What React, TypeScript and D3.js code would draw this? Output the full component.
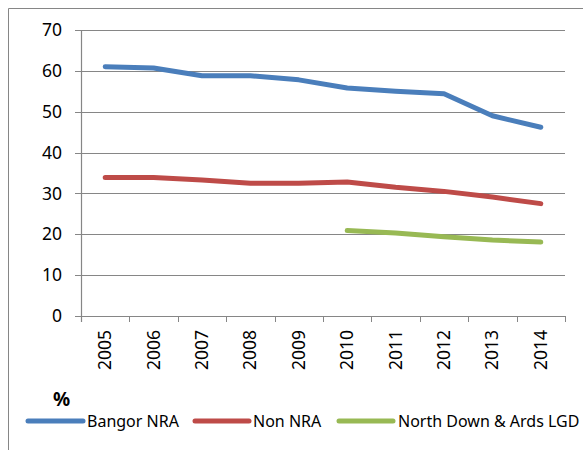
import React from "react";
import * as d3 from "d3";

const years = ["2005", "2006", "2007", "2008", "2009", "2010", "2011", "2012", "2013", "2014"];
const bangor = [61.0, 60.7, 58.8, 58.8, 57.8, 55.8, 55.0, 54.4, 49.0, 46.2];
const nonNra = [33.9, 33.9, 33.3, 32.5, 32.5, 32.8, 31.5, 30.5, 29.1, 27.5];
const northDown: (number | null)[] = [null, null, null, null, null, 20.9, 20.3, 19.4, 18.6, 18.1];
const yTicks = [0, 10, 20, 30, 40, 50, 60, 70];
const seriesNames = ["Bangor NRA", "Non NRA", "North Down & Ards LGD"];
const colors = ["#4A7EBB", "#BE4B48", "#98B954"];

export default function App() {
  const W = 583, H = 450;
  const left = 81, right = 565, top = 30, bottom = 316;
  const x = d3.scaleBand<string>().domain(years).range([left, right]);
  const y = d3.scaleLinear().domain([0, 70]).range([bottom, top]);
  const font = "'Noto Sans', 'Open Sans', sans-serif";
  const grid = "#868686";

  const line = d3
    .line<number | null>()
    .defined((d) => d !== null)
    .x((_, i) => (x(years[i]) as number) + x.bandwidth() / 2)
    .y((d) => y(d as number));

  const series = [bangor, nonNra, northDown];
  const legend = [
    { x1: 28, x2: 83, tx: 87 },
    { x1: 195, x2: 249, tx: 253 },
    { x1: 339, x2: 393, tx: 398 },
  ];

  return (
    <svg width={W} height={H} style={{ position: "absolute", left: 0, top: 0 }} fontFamily={font}>
      <rect x={0} y={0} width={W} height={H} fill="#fff" />
      <path d={`M8.5,${H} V8.5 H${W}`} fill="none" stroke={grid} strokeWidth={1} />
      {yTicks.map((t) => (
        <g key={t}>
          <line x1={75} x2={right} y1={Math.round(y(t)) + 0.5} y2={Math.round(y(t)) + 0.5} stroke={grid} strokeWidth={1} />
          <text x={62} y={y(t)} dy="0.35em" textAnchor="end" fontSize={17.5} fill="#000">
            {t}
          </text>
        </g>
      ))}
      <line x1={left + 0.5} x2={left + 0.5} y1={top} y2={bottom + 6} stroke={grid} strokeWidth={1.2} />
      {years.map((yr, i) => (
        <line key={"t" + yr} x1={Math.round((x(yr) as number)) + 0.5} x2={Math.round((x(yr) as number)) + 0.5} y1={bottom} y2={bottom + 6} stroke={grid} />
      ))}
      <line x1={right + 0.5} x2={right + 0.5} y1={bottom} y2={bottom + 6} stroke={grid} />
      {years.map((yr) => {
        const cx = (x(yr) as number) + x.bandwidth() / 2;
        return (
          <text key={yr} transform={`translate(${cx + 6},${330}) rotate(-90)`} textAnchor="end" fontSize={17.5} fill="#000">
            {yr}
          </text>
        );
      })}
      {series.map((s, i) => (
        <path key={i} d={line(s) || ""} fill="none" stroke={colors[i]} strokeWidth={5} strokeLinecap="round" strokeLinejoin="round" />
      ))}
      <text x={53} y={406} fontSize={19} fontWeight="bold" fill="#000">%</text>
      {legend.map((l, i) => (
        <g key={i}>
          <line x1={l.x1} x2={l.x2} y1={421} y2={421} stroke={colors[i]} strokeWidth={5} strokeLinecap="round" />
          <text x={l.tx} y={421} dy="0.35em" fontSize={16} fill="#000">{seriesNames[i]}</text>
        </g>
      ))}
    </svg>
  );
}
